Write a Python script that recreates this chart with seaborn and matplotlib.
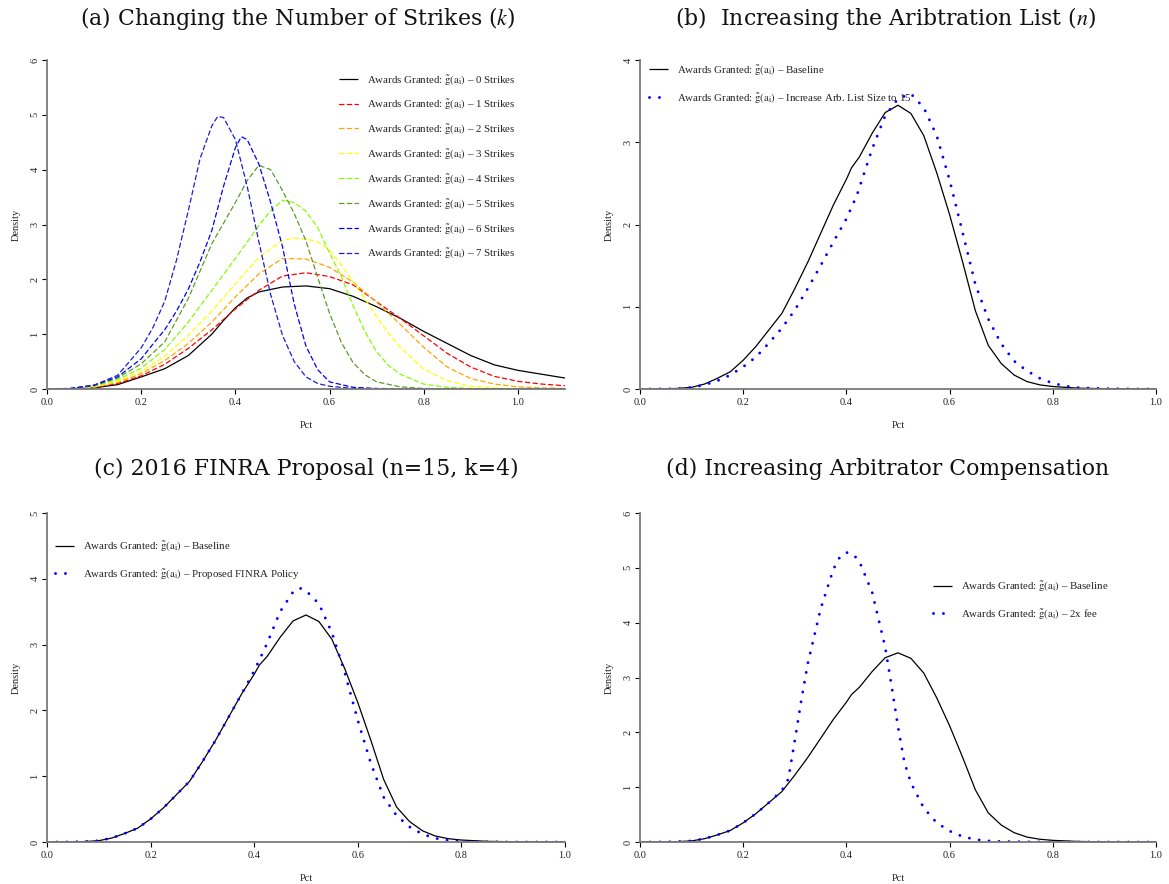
import matplotlib
matplotlib.use("Agg")
import matplotlib.pyplot as plt
import seaborn as sns

# ---------------- data ----------------
# Panel (a): density of awards granted by number of strikes
a0_x = [0, 0.05, 0.1, 0.15, 0.2, 0.25, 0.3, 0.35, 0.375, 0.4, 0.425, 0.45, 0.5, 0.55, 0.6, 0.65, 0.7, 0.75, 0.8, 0.85, 0.9, 0.95, 1.0, 1.05, 1.1]
a0_y = [0, 0.003, 0.02, 0.08, 0.22, 0.37, 0.61, 1.0, 1.25, 1.48, 1.66, 1.77, 1.86, 1.88, 1.83, 1.69, 1.50, 1.29, 1.05, 0.83, 0.61, 0.44, 0.34, 0.27, 0.20]
a1_x = [0, 0.05, 0.1, 0.15, 0.2, 0.25, 0.3, 0.35, 0.4, 0.45, 0.5, 0.55, 0.6, 0.65, 0.7, 0.75, 0.8, 0.85, 0.9, 0.95, 1.0, 1.05, 1.1]
a1_y = [0, 0.004, 0.03, 0.10, 0.24, 0.45, 0.74, 1.08, 1.46, 1.80, 2.06, 2.12, 2.05, 1.90, 1.59, 1.29, 0.97, 0.65, 0.40, 0.23, 0.14, 0.09, 0.06]
a2_x = [0, 0.05, 0.1, 0.15, 0.2, 0.25, 0.3, 0.35, 0.4, 0.45, 0.5, 0.55, 0.6, 0.65, 0.7, 0.75, 0.8, 0.85, 0.9, 0.95, 1.0, 1.05, 1.1]
a2_y = [0, 0.005, 0.035, 0.12, 0.28, 0.52, 0.83, 1.22, 1.68, 2.10, 2.38, 2.37, 2.22, 1.95, 1.58, 1.18, 0.76, 0.40, 0.19, 0.09, 0.04, 0.02, 0.01]
a3_x = [0, 0.05, 0.1, 0.15, 0.2, 0.25, 0.3, 0.35, 0.4, 0.45, 0.5, 0.525, 0.55, 0.575, 0.6, 0.625, 0.65, 0.675, 0.7, 0.725, 0.75, 0.8, 0.85, 0.9, 0.95, 1.0, 1.1]
a3_y = [0, 0.006, 0.04, 0.14, 0.32, 0.60, 0.98, 1.42, 1.92, 2.40, 2.71, 2.75, 2.74, 2.68, 2.53, 2.26, 1.96, 1.64, 1.32, 1.02, 0.76, 0.36, 0.15, 0.05, 0.02, 0.005, 0]
a4_x = [0, 0.05, 0.1, 0.15, 0.2, 0.25, 0.3, 0.35, 0.4, 0.45, 0.475, 0.5, 0.525, 0.55, 0.575, 0.6, 0.625, 0.65, 0.675, 0.7, 0.725, 0.75, 0.8, 0.85, 0.9, 1.0, 1.1]
a4_y = [0, 0.008, 0.05, 0.17, 0.38, 0.72, 1.22, 1.80, 2.38, 2.98, 3.25, 3.44, 3.40, 3.24, 2.94, 2.48, 2.05, 1.52, 1.05, 0.68, 0.43, 0.27, 0.09, 0.03, 0.01, 0, 0]
a5_x = [0, 0.05, 0.1, 0.15, 0.2, 0.25, 0.3, 0.35, 0.4, 0.425, 0.45, 0.475, 0.5, 0.525, 0.55, 0.575, 0.6, 0.625, 0.65, 0.675, 0.7, 0.75, 0.8, 0.9, 1.1]
a5_y = [0, 0.01, 0.06, 0.20, 0.46, 0.86, 1.65, 2.65, 3.40, 3.80, 4.08, 4.00, 3.62, 3.20, 2.70, 2.03, 1.38, 0.85, 0.48, 0.26, 0.13, 0.04, 0.01, 0, 0]
a6_x = [0, 0.05, 0.1, 0.15, 0.2, 0.225, 0.25, 0.275, 0.3, 0.325, 0.35, 0.375, 0.4, 0.4125, 0.425, 0.45, 0.475, 0.5, 0.525, 0.55, 0.575, 0.6, 0.65, 0.7, 0.8, 1.1]
a6_y = [0, 0.01, 0.07, 0.22, 0.55, 0.82, 1.08, 1.42, 1.82, 2.32, 2.89, 3.70, 4.40, 4.60, 4.55, 4.10, 3.40, 2.60, 1.55, 0.78, 0.35, 0.13, 0.03, 0.01, 0, 0]
a7_x = [0, 0.05, 0.1, 0.15, 0.2, 0.225, 0.25, 0.275, 0.3, 0.325, 0.35, 0.3625, 0.375, 0.4, 0.425, 0.45, 0.475, 0.5, 0.525, 0.55, 0.575, 0.6, 0.65, 0.7, 1.1]
a7_y = [0, 0.01, 0.07, 0.25, 0.75, 1.12, 1.60, 2.35, 3.25, 4.20, 4.80, 4.97, 4.95, 4.55, 3.70, 2.68, 1.72, 0.98, 0.50, 0.22, 0.10, 0.05, 0.01, 0, 0]
strike_labels = ["0", "1", "2", "3", "4", "5", "6", "7"]
strike_colors = ["black", "#ff0000", "#ffa500", "#ffff00", "#80ff00", "#5e9a28", "#0000ff", "#1c1cd8"]

# Baseline (panels b, c, d)
base_x = [0, 0.025, 0.05, 0.075, 0.1, 0.125, 0.15, 0.175, 0.2, 0.225, 0.25, 0.275, 0.3, 0.325, 0.35, 0.375, 0.4, 0.41, 0.425, 0.45, 0.475, 0.5, 0.525, 0.55, 0.575, 0.6, 0.625, 0.65, 0.675, 0.7, 0.725, 0.75, 0.775, 0.8, 0.85, 0.9, 0.95, 1.0]
base_y = [0, 0, 0.002, 0.008, 0.02, 0.06, 0.13, 0.21, 0.35, 0.52, 0.72, 0.92, 1.22, 1.54, 1.89, 2.24, 2.55, 2.69, 2.82, 3.11, 3.36, 3.45, 3.35, 3.08, 2.63, 2.12, 1.55, 0.95, 0.53, 0.31, 0.17, 0.09, 0.05, 0.03, 0.01, 0.004, 0.001, 0]
# (b) arbitration list increased to 15
listb_x = [0, 0.05, 0.075, 0.1, 0.125, 0.15, 0.175, 0.2, 0.225, 0.25, 0.275, 0.3, 0.325, 0.35, 0.375, 0.4, 0.42, 0.45, 0.475, 0.5, 0.525, 0.55, 0.575, 0.6, 0.625, 0.65, 0.675, 0.7, 0.725, 0.75, 0.775, 0.8, 0.825, 0.85, 0.9, 0.95, 1.0]
listb_y = [0, 0.001, 0.005, 0.02, 0.05, 0.10, 0.17, 0.27, 0.39, 0.56, 0.74, 0.96, 1.22, 1.50, 1.79, 2.07, 2.35, 2.92, 3.32, 3.53, 3.59, 3.42, 3.08, 2.54, 1.91, 1.27, 0.85, 0.55, 0.34, 0.22, 0.13, 0.07, 0.035, 0.015, 0.005, 0.001, 0]
# (c) proposed FINRA policy
finra_x = [0, 0.025, 0.05, 0.075, 0.1, 0.125, 0.15, 0.175, 0.2, 0.225, 0.25, 0.275, 0.3, 0.325, 0.35, 0.375, 0.4, 0.425, 0.45, 0.475, 0.4875, 0.5, 0.525, 0.55, 0.575, 0.6, 0.625, 0.65, 0.675, 0.7, 0.725, 0.75, 0.775, 0.8, 0.85, 0.9, 1.0]
finra_y = [0, 0, 0.002, 0.008, 0.02, 0.06, 0.13, 0.21, 0.35, 0.52, 0.72, 0.92, 1.22, 1.54, 1.89, 2.24, 2.60, 3.02, 3.50, 3.80, 3.86, 3.82, 3.62, 3.18, 2.57, 1.85, 1.20, 0.68, 0.40, 0.23, 0.12, 0.055, 0.025, 0.01, 0.003, 0, 0]
# (d) 2x arbitrator fee
fee_x = [0, 0.025, 0.05, 0.075, 0.1, 0.125, 0.15, 0.175, 0.2, 0.225, 0.25, 0.275, 0.2875, 0.3, 0.3125, 0.325, 0.35, 0.375, 0.3875, 0.4, 0.4125, 0.425, 0.45, 0.475, 0.4875, 0.5, 0.5125, 0.525, 0.55, 0.575, 0.6, 0.625, 0.65, 0.675, 0.7, 0.75, 0.8, 1.0]
fee_y = [0, 0, 0.002, 0.008, 0.02, 0.06, 0.13, 0.21, 0.35, 0.52, 0.72, 0.94, 1.15, 1.85, 2.58, 3.25, 4.25, 4.98, 5.20, 5.28, 5.25, 5.12, 4.55, 3.56, 2.85, 2.10, 1.45, 1.08, 0.62, 0.35, 0.20, 0.10, 0.045, 0.02, 0.01, 0.003, 0, 0]

titles = ["(a) Changing the Number of Strikes ($k$)",
          "(b)  Increasing the Aribtration List ($n$)",
          "(c) 2016 FINRA Proposal (n=15, k=4)",
          "(d) Increasing Arbitrator Compensation"]
xticks_a = [0.0, 0.2, 0.4, 0.6, 0.8, 1.0]
GT = r"Awards Granted: $\tilde{\mathrm{g}}(\mathrm{a}_{\mathrm{i}})$ – "

# ---------------- style ----------------
sns.set_style("ticks")
plt.rcParams['font.family'] = ['Liberation Serif', 'DejaVu Serif']
plt.rcParams['mathtext.fontset'] = 'stix'

W, H = 1169, 884
fig = plt.figure(figsize=(W / 100, H / 100), dpi=100)


def add_axes(x0, x1, ytop, ybot):
    return fig.add_axes([x0 / W, 1 - ybot / H, (x1 - x0) / W, (ybot - ytop) / H])


axA = add_axes(47, 565, 60, 389)
axB = add_axes(640, 1156, 60, 389)
axC = add_axes(47, 565, 513, 842)
axD = add_axes(640, 1156, 513, 842)

DASH = (0, (3.6, 2.6))
DOT = (0, (0.01, 3.4))
SOLID_LW = 0.9
DOT_LW = 2.1


def line(ax, x, y, color, ls, lw, label):
    sns.lineplot(x=x, y=y, ax=ax, color=color, linestyle=ls, linewidth=lw,
                 label=label, estimator=None, sort=False,
                 dash_capstyle='round', solid_capstyle='butt')


# Panel (a)
series_a = [(a0_x, a0_y), (a1_x, a1_y), (a2_x, a2_y), (a3_x, a3_y),
            (a4_x, a4_y), (a5_x, a5_y), (a6_x, a6_y), (a7_x, a7_y)]
for i, (sx, sy) in enumerate(series_a):
    line(axA, sx, sy, strike_colors[i], '-' if i == 0 else DASH,
         SOLID_LW if i == 0 else 0.9, GT + strike_labels[i] + " Strikes")

# Panels (b)-(d)
line(axB, base_x, base_y, 'black', '-', SOLID_LW, GT + "Baseline")
line(axB, listb_x, listb_y, 'blue', DOT, DOT_LW, GT + "Increase Arb. List Size to 15")
line(axC, base_x, base_y, 'black', '-', SOLID_LW, GT + "Baseline")
line(axC, finra_x, finra_y, 'blue', DOT, DOT_LW, GT + "Proposed FINRA Policy")
line(axD, base_x, base_y, 'black', '-', SOLID_LW, GT + "Baseline")
line(axD, fee_x, fee_y, 'blue', DOT, DOT_LW, GT + "2x fee")


def style(ax, xmax, ymax):
    ax.set_xlim(0, xmax)
    ax.set_ylim(0, ymax)
    ax.set_xticks(xticks_a)
    ax.set_xticklabels([f"{t:.1f}" for t in xticks_a])
    ax.set_yticks(list(range(ymax + 1)))
    ax.set_yticklabels([str(v) for v in range(ymax + 1)], rotation=90, va='center')
    for s in ['top', 'right']:
        ax.spines[s].set_visible(False)
    for s in ['left', 'bottom']:
        ax.spines[s].set_color('#7a7a7a')
        ax.spines[s].set_linewidth(1.3)
    ax.tick_params(direction='out', length=3.6, width=0.8, color='black',
                   labelsize=7.5, labelcolor='#222222')
    ax.tick_params(axis='x', pad=3)
    ax.tick_params(axis='y', pad=1.8)
    ax.set_xlabel('Pct', fontsize=7.5, labelpad=10, color='#222222')
    ax.set_ylabel('Density', fontsize=7.5, labelpad=7, color='#222222')


style(axA, 1.1, 6)
style(axB, 1.0, 4)
style(axC, 1.0, 5)
style(axD, 1.0, 6)


def legend(ax, fx, fy, spacing):
    ax.legend(loc='upper left', bbox_to_anchor=(fx, fy), frameon=False,
              fontsize=7.8, handlelength=1.75, handletextpad=0.85,
              labelspacing=spacing, borderaxespad=0, borderpad=0,
              labelcolor='#222222')


legend(axA, 0.5637, 0.962, 1.0)
legend(axB, 0.0174, 0.99, 1.25)
legend(axC, 0.0154, 0.92, 1.25)
legend(axD, 0.568, 0.798, 1.25)

title_pos = [(298, 18), (886, 18), (306, 469), (888, 469)]
for t, (px, py) in zip(titles, title_pos):
    fig.text(px / W, 1 - py / H, t, ha='center', va='center',
             fontsize=15.8, family=['DejaVu Serif'], color='#111111')

fig.savefig('out.png', dpi=100)
